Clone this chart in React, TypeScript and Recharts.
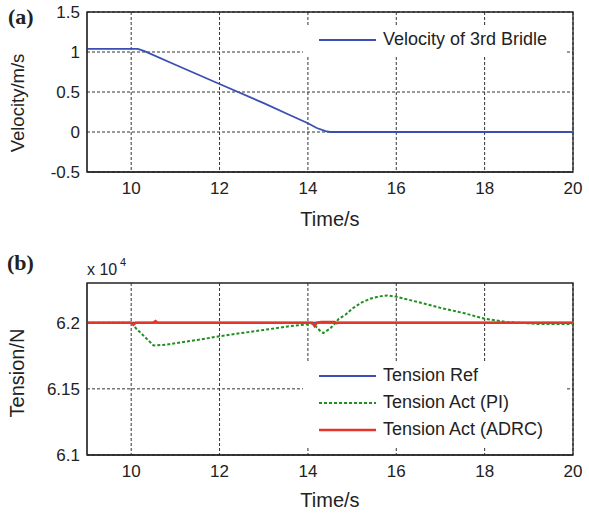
import React from 'react';
import { LineChart, Line, XAxis, YAxis, CartesianGrid, ReferenceArea } from 'recharts';

// ---- Panel (a): velocity ----
const velTime = [9, 10.15, 10.3, 11, 12, 13, 13.6, 14, 14.2, 14.4, 14.5, 15, 20];
const velValues = [1.04, 1.04, 1.01, 0.84, 0.6, 0.36, 0.21, 0.11, 0.05, 0.01, 0, 0, 0];
const velTicksX = [10, 12, 14, 16, 18, 20];
const velTicksY = [-0.5, 0, 0.5, 1, 1.5];

// ---- Panel (b): tension (N) ----
const tenTime = [9, 10, 10.05, 10.1, 10.5, 10.55, 10.6, 10.8, 11.5, 12, 12.5, 13, 13.5, 14, 14.1, 14.15, 14.2, 14.3, 14.35, 14.5, 14.6, 14.65, 14.7, 14.85, 15, 15.2, 15.4, 15.6, 15.8, 16, 16.5, 17, 17.5, 18, 18.5, 19, 19.2, 20];
const tenRef = [62000, 62000, 62000, 62000, 62000, 62000, 62000, 62000, 62000, 62000, 62000, 62000, 62000, 62000, 62000, 62000, 62000, 62000, 62000, 62000, 62000, 62000, 62000, 62000, 62000, 62000, 62000, 62000, 62000, 62000, 62000, 62000, 62000, 62000, 62000, 62000, 62000, 62000];
const tenPI = [62000, 62000, 61990, 61960, 61830, 61828, 61830, 61834, 61870, 61897, 61922, 61945, 61970, 61988, 61995, 61985, 61965, 61930, 61922, 61955, 61990, 62010, 62030, 62060, 62105, 62150, 62180, 62198, 62205, 62197, 62155, 62112, 62075, 62030, 62005, 61995, 61990, 61990];
const tenADRC = [62000, 62000, 61985, 62000, 62000, 62012, 62000, 62000, 62000, 62000, 62000, 62000, 62000, 62000, 62000, 61975, 62000, 62004, 62004, 62004, 62004, 61996, 62000, 62000, 62000, 62000, 62000, 62000, 62000, 62000, 62000, 62000, 62000, 62000, 62000, 62000, 62000, 62000];
const tenTicksX = [10, 12, 14, 16, 18, 20];
const tenTicksY = [61000, 61500, 62000];

const velData = velTime.map((t, i) => ({ t, v: velValues[i] }));
const tenData = tenTime.map((t, i) => ({ t, ref: tenRef[i], pi: tenPI[i], adrc: tenADRC[i] }));

const FONT = '"Liberation Sans", Arial, Helvetica, sans-serif';
const BLUE = '#3a4fb3';
const GREEN = '#1f8f1f';
const RED = '#e2362a';
const AX = '#222';

const tickStyle = { fontSize: 17, fill: '#222', fontFamily: FONT };

const xLabel = (dy: number) => (props: any) => {
  const vb = props.viewBox || {};
  return (
    <text x={vb.x + vb.width / 2} y={vb.y + dy} textAnchor="middle" fontSize={20} fill="#222" fontFamily={FONT}>
      Time/s
    </text>
  );
};

const yLabel = (text: string, dyc: number, fs: number) => (props: any) => {
  const vb = props.viewBox || {};
  const x = vb.x - 3;
  const y = vb.y + vb.height / 2 + dyc;
  return (
    <text x={x} y={y} transform={`rotate(-90 ${x} ${y})`} textAnchor="middle" fontSize={fs} fill="#222" fontFamily={FONT}>
      {text}
    </text>
  );
};

const LegendBox = ({ items, style }: { items: { name: string; color: string; dash?: string; w: number }[]; style: any }) => (
  <div style={{ position: 'absolute', background: '#fff', fontFamily: FONT, fontSize: 18, color: '#222', ...style }}>
    {items.map((it) => (
      <div key={it.name} style={{ display: 'flex', alignItems: 'center', height: 27 }}>
        <svg width={57} height={10} style={{ marginLeft: 16, marginRight: 7, flex: 'none' }}>
          <line x1={0} y1={5} x2={57} y2={5} stroke={it.color} strokeWidth={it.w} strokeDasharray={it.dash} />
        </svg>
        <span style={{ whiteSpace: 'nowrap' }}>{it.name}</span>
      </div>
    ))}
  </div>
);

export default function App() {
  return (
    <div style={{ position: 'absolute', left: 0, top: 0, width: 589, height: 513, background: '#fff', overflow: 'hidden' }}>
      <div style={{ position: 'absolute', left: 0, top: 0 }}>
        <LineChart width={589} height={240} data={velData} margin={{ top: 12, right: 16, left: 27, bottom: 10 }}>
          <CartesianGrid stroke="#333" strokeDasharray="3 2" strokeWidth={1} verticalValues={velTicksX} horizontalValues={velTicksY} />
          <XAxis dataKey="t" type="number" domain={[9, 20]} ticks={velTicksX} allowDataOverflow tickLine={false} tickSize={6} tickMargin={4}
            axisLine={{ stroke: AX }} tick={tickStyle} height={58} label={xLabel(54)} />
          <YAxis type="number" domain={[-0.5, 1.5]} ticks={velTicksY} allowDataOverflow tickLine={false} tickSize={6} tickMargin={1}
            axisLine={{ stroke: AX }} tick={tickStyle} width={60} label={yLabel('Velocity/m/s', 11, 18.5)} />
          <ReferenceArea x1={9} x2={20} y1={-0.5} y2={1.5} fill="none" stroke={AX} strokeWidth={1.3} ifOverflow="visible" />
          <Line dataKey="v" stroke={BLUE} strokeWidth={1.8} dot={false} isAnimationActive={false} />
        </LineChart>
      </div>
      <LegendBox
        style={{ left: 303, top: 26, width: 264, height: 30 }}
        items={[{ name: 'Velocity of 3rd Bridle', color: BLUE, w: 2 }]}
      />

      <div style={{ position: 'absolute', left: 0, top: 250 }}>
        <LineChart width={589} height={263} data={tenData} margin={{ top: 33, right: 16, left: 27, bottom: 0 }}>
          <CartesianGrid stroke="#333" strokeDasharray="3 2" strokeWidth={1} verticalValues={tenTicksX} horizontalValues={tenTicksY} />
          <XAxis dataKey="t" type="number" domain={[9, 20]} ticks={tenTicksX} allowDataOverflow tickLine={false} tickSize={6} tickMargin={4}
            axisLine={{ stroke: AX }} tick={tickStyle} height={58} label={xLabel(52)} />
          <YAxis type="number" domain={[61000, 62300]} ticks={tenTicksY} allowDataOverflow tickLine={false} tickSize={6} tickMargin={1}
            axisLine={{ stroke: AX }} tick={tickStyle} width={60} tickFormatter={(v: number) => String(v / 10000)} label={yLabel('Tension/N', 4, 20)} />
          <ReferenceArea x1={9} x2={20} y1={61000} y2={62300} fill="none" stroke={AX} strokeWidth={1.3} ifOverflow="visible" />
          <Line dataKey="ref" stroke={BLUE} strokeWidth={2} dot={false} isAnimationActive={false} />
          <Line dataKey="pi" stroke={GREEN} strokeWidth={2} strokeDasharray="3 2" dot={false} isAnimationActive={false} />
          <Line dataKey="adrc" stroke={RED} strokeWidth={2.6} dot={false} isAnimationActive={false} />
        </LineChart>
      </div>
      <LegendBox
        style={{ left: 303, top: 362, width: 264, height: 86 }}
        items={[
          { name: 'Tension Ref', color: BLUE, w: 2 },
          { name: 'Tension Act (PI)', color: GREEN, w: 2, dash: '3 2' },
          { name: 'Tension Act (ADRC)', color: RED, w: 2.6 },
        ]}
      />

      <svg width={589} height={513} style={{ position: 'absolute', left: 0, top: 0, pointerEvents: 'none' }}>
        <text x={8} y={24} fontFamily='"Liberation Serif", "Times New Roman", serif' fontWeight="bold" fontSize={22} fill="#222">(a)</text>
        <text x={7} y={270} fontFamily='"Liberation Serif", "Times New Roman", serif' fontWeight="bold" fontSize={22} fill="#222">(b)</text>
        <text x={87} y={275} fontFamily={FONT} fontSize={16} fill="#222">x 10</text>
        <text x={120} y={266} fontFamily={FONT} fontSize={11} fill="#222">4</text>
      </svg>
    </div>
  );
}
